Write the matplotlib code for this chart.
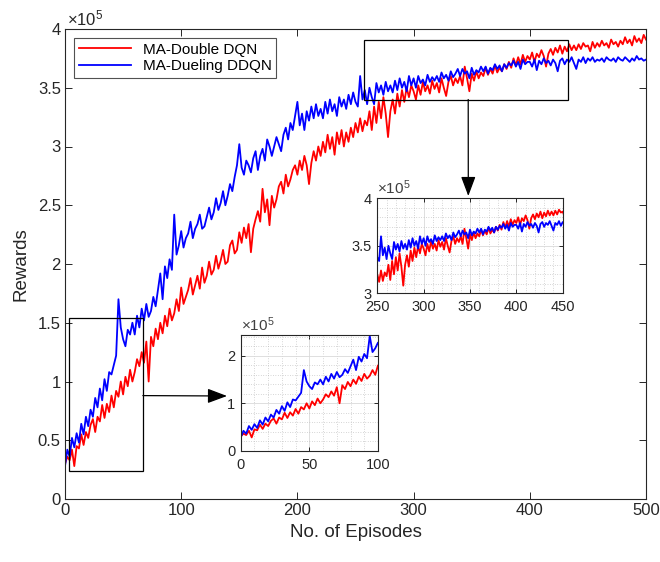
import matplotlib
matplotlib.use("Agg")
import matplotlib.pyplot as plt
from matplotlib.patches import Rectangle
from matplotlib.ticker import MultipleLocator

plt.rcParams['font.family'] = ['Liberation Sans', 'DejaVu Sans']
plt.rcParams['mathtext.fontset'] = 'custom'
plt.rcParams['mathtext.rm'] = 'Liberation Sans'
plt.rcParams['mathtext.it'] = 'Liberation Sans'

# rewards in units of 1e5, one value every 2 episodes (0..500)
episodes = list(range(0, 501, 2))

double_dqn = [
    0.30, 0.36, 0.33, 0.42, 0.28, 0.45, 0.43, 0.55, 0.46, 0.57,
    0.52, 0.63, 0.68, 0.57, 0.70, 0.66, 0.80, 0.69, 0.81, 0.74,
    0.88, 0.78, 0.92, 0.87, 1.00, 0.89, 1.04, 0.96, 1.10, 1.00,
    1.08, 1.19, 1.13, 1.25, 1.16, 1.34, 1.00, 1.38, 1.30, 1.45,
    1.36, 1.50, 1.41, 1.56, 1.47, 1.62, 1.52, 1.58, 1.70, 1.60,
    1.80, 1.66, 1.72, 1.78, 1.88, 1.74, 1.82, 1.90, 1.79, 1.97,
    1.84, 1.90, 2.02, 1.91, 1.95, 2.07, 1.96, 2.03, 2.12, 2.00,
    2.02, 2.16, 2.20, 2.09, 2.12, 2.27, 2.18, 2.31, 2.22, 2.34,
    2.10, 2.30, 2.38, 2.45, 2.36, 2.64, 2.44, 2.55, 2.33, 2.58,
    2.48, 2.55, 2.66, 2.70, 2.60, 2.76, 2.66, 2.72, 2.80, 2.84,
    2.76, 2.88, 2.80, 2.92, 2.84, 2.68, 2.86, 2.96, 2.88, 3.00,
    2.92, 3.04, 2.95, 3.10, 2.98, 3.08, 2.93, 3.12, 3.02, 3.14,
    3.00, 3.12, 3.04, 3.16, 3.08, 3.20, 3.12, 3.24, 3.13, 3.22,
    3.18, 3.30, 3.14, 3.34, 3.20, 3.38, 3.24, 3.42, 3.28, 3.08,
    3.30, 3.40, 3.28, 3.45, 3.34, 3.48, 3.38, 3.50, 3.42, 3.52,
    3.47, 3.40, 3.52, 3.44, 3.55, 3.47, 3.52, 3.45, 3.56, 3.49,
    3.54, 3.46, 3.58, 3.50, 3.43, 3.55, 3.60, 3.52, 3.58, 3.54,
    3.60, 3.52, 3.68, 3.58, 3.47, 3.62, 3.56, 3.64, 3.58, 3.63,
    3.60, 3.67, 3.61, 3.66, 3.62, 3.69, 3.63, 3.67, 3.64, 3.70,
    3.66, 3.72, 3.67, 3.75, 3.69, 3.76, 3.70, 3.78, 3.72, 3.77,
    3.74, 3.80, 3.72, 3.79, 3.76, 3.82, 3.77, 3.68, 3.79, 3.83,
    3.78, 3.84, 3.80, 3.86, 3.79, 3.85, 3.81, 3.87, 3.82, 3.86,
    3.82, 3.87, 3.83, 3.88, 3.85, 3.86, 3.81, 3.89, 3.84, 3.88,
    3.85, 3.90, 3.86, 3.88, 3.84, 3.91, 3.87, 3.89, 3.85, 3.90,
    3.87, 3.93, 3.88, 3.91, 3.86, 3.94, 3.89, 3.92, 3.88, 3.95,
    3.91,
]

dueling_ddqn = [
    0.28, 0.42, 0.36, 0.52, 0.44, 0.56, 0.48, 0.64, 0.55, 0.70,
    0.62, 0.76, 0.70, 0.86, 0.78, 0.94, 0.84, 1.02, 0.92, 1.08,
    1.06, 1.14, 1.22, 1.70, 1.46, 1.36, 1.30, 1.44, 1.40, 1.50,
    1.40, 1.56, 1.46, 1.62, 1.52, 1.66, 1.55, 1.60, 1.72, 1.64,
    1.78, 1.92, 1.70, 1.98, 1.88, 2.04, 1.95, 2.42, 2.08, 2.16,
    2.28, 2.14, 2.22, 2.26, 2.36, 2.22, 2.30, 2.34, 2.42, 2.30,
    2.32, 2.40, 2.48, 2.38, 2.44, 2.56, 2.46, 2.52, 2.62, 2.50,
    2.58, 2.68, 2.62, 2.74, 2.84, 3.02, 2.82, 2.76, 2.88, 2.84,
    2.78, 2.90, 2.96, 2.80, 2.92, 2.98, 2.88, 3.06, 3.00, 2.92,
    3.00, 3.08, 3.02, 2.96, 3.10, 3.16, 3.06, 3.20, 3.14, 3.26,
    3.38, 3.18, 3.28, 3.14, 3.30, 3.22, 3.34, 3.24, 3.36, 3.26,
    3.32, 3.24, 3.38, 3.28, 3.40, 3.30, 3.36, 3.26, 3.42, 3.34,
    3.40, 3.32, 3.44, 3.36, 3.46, 3.38, 3.34, 3.60, 3.40, 3.48,
    3.36, 3.50, 3.42, 3.36, 3.54, 3.46, 3.52, 3.44, 3.55, 3.47,
    3.52, 3.46, 3.56, 3.48, 3.58, 3.50, 3.55, 3.47, 3.60, 3.52,
    3.58, 3.50, 3.60, 3.54, 3.57, 3.52, 3.61, 3.55, 3.59, 3.56,
    3.60, 3.55, 3.63, 3.58, 3.61, 3.56, 3.64, 3.59, 3.62, 3.66,
    3.60, 3.66, 3.62, 3.64, 3.58, 3.67, 3.61, 3.65, 3.63, 3.68,
    3.64, 3.68, 3.62, 3.67, 3.65, 3.70, 3.66, 3.69, 3.64, 3.70,
    3.67, 3.71, 3.69, 3.73, 3.68, 3.72, 3.66, 3.74, 3.70, 3.72,
    3.72, 3.68, 3.74, 3.65, 3.73, 3.70, 3.75, 3.71, 3.73, 3.69,
    3.74, 3.71, 3.64, 3.73, 3.75, 3.70, 3.74, 3.72, 3.76, 3.71,
    3.66, 3.74, 3.72, 3.76, 3.71, 3.75, 3.73, 3.76, 3.72, 3.74,
    3.73, 3.75, 3.72, 3.76, 3.74, 3.73, 3.75, 3.72, 3.76, 3.74,
    3.73, 3.76, 3.74, 3.72, 3.75, 3.73, 3.77, 3.74, 3.75, 3.73,
    3.74,
]

labels = ["MA-Double DQN", "MA-Dueling DDQN"]
colors = ["#ff0000", "#0000ff"]
y_ticks = [0, 0.5, 1, 1.5, 2, 2.5, 3, 3.5, 4]
y_tick_labels = ["0", "0.5", "1", "1.5", "2", "2.5", "3", "3.5", "4"]

AXC = "#262626"
W, H = 660, 562


def style_axes(ax, size, length, xpad=3, ypad=3):
    for s in ax.spines.values():
        s.set_color(AXC)
        s.set_linewidth(0.8)
    ax.tick_params(direction="in", top=True, right=True, length=length,
                   width=0.7, colors=AXC, labelsize=size)
    ax.tick_params(axis="x", pad=xpad)
    ax.tick_params(axis="y", pad=ypad)
    ax.tick_params(which="minor", length=0)


fig = plt.figure(figsize=(W / 100, H / 100), dpi=100)
ax = fig.add_axes([65 / W, 63 / H, 581 / W, 470 / H])
ax.plot(episodes, double_dqn, color=colors[0], lw=1.3, label=labels[0])
ax.plot(episodes, dueling_ddqn, color=colors[1], lw=1.3, label=labels[1])
ax.set_xlim(0, 500)
ax.set_ylim(0, 4)
ax.set_xticks(range(0, 501, 100))
ax.set_yticks(y_ticks)
ax.set_yticklabels(y_tick_labels)
style_axes(ax, 12, 5)
ax.set_xlabel("No. of Episodes", fontsize=13.5, color=AXC, labelpad=4)
ax.set_ylabel("Rewards", fontsize=13.5, color=AXC, labelpad=6)
ax.text(0.003, 1.002, r"$\times10^{5}$", transform=ax.transAxes,
        ha="left", va="bottom", fontsize=12, color=AXC)
leg = ax.legend(loc="upper left", fontsize=11, frameon=True, fancybox=False,
                edgecolor=AXC, handlelength=3.4, borderpad=0.3,
                labelspacing=0.15, borderaxespad=0.6)
leg.get_frame().set_linewidth(0.8)

# zoom boxes in the main axes
ax.add_patch(Rectangle((3.7, 0.24), 63.3, 1.30, fill=False, ec="black", lw=0.9, zorder=5))
ax.add_patch(Rectangle((257.6, 3.40), 175.4, 0.51, fill=False, ec="black", lw=0.9, zorder=5))

# arrows from the boxes to the insets
arrow = dict(arrowstyle="-|>,head_length=1.2,head_width=0.45", color="black",
             lw=0.9, shrinkA=0, shrinkB=0)
ax.annotate("", xy=(227 / W, 1 - 396 / H), xycoords="figure fraction",
            xytext=(67, 0.88), textcoords="data", arrowprops=arrow)
ax.annotate("", xy=(468.3 / W, 1 - 196 / H), xycoords="figure fraction",
            xytext=(347, 3.40), textcoords="data", arrowprops=arrow)


def make_inset(rect, xlim, ylim, xticks, yticks, yticklabels, xminor, yminor):
    ins = fig.add_axes(rect)
    ins.plot(episodes, double_dqn, color=colors[0], lw=1.3)
    ins.plot(episodes, dueling_ddqn, color=colors[1], lw=1.3)
    ins.set_xlim(*xlim)
    ins.set_ylim(*ylim)
    ins.set_xticks(xticks)
    ins.set_yticks(yticks)
    ins.set_yticklabels(yticklabels)
    ins.xaxis.set_minor_locator(MultipleLocator(xminor))
    ins.yaxis.set_minor_locator(MultipleLocator(yminor))
    ins.grid(True, which="major", color="#d9d9d9", lw=0.6)
    ins.grid(True, which="minor", color="#b0b0b0", lw=0.5, ls=(0, (1, 2.5)))
    ins.set_axisbelow(True)
    style_axes(ins, 10.5, 3, xpad=5, ypad=4)
    ins.text(0.0, 1.01, r"$\times10^{5}$", transform=ins.transAxes,
             ha="left", va="bottom", fontsize=11, color="#404040")
    return ins


make_inset([240.7 / W, 1 - 450.7 / H, 137.3 / W, 115.7 / H],
           (0, 100), (0, 2.44), [0, 50, 100], [0, 1, 2], ["0", "1", "2"], 10, 0.2)
make_inset([377.3 / W, 1 - 293.3 / H, 185.4 / W, 95 / H],
           (250, 450), (3, 4), [250, 300, 350, 400, 450], [3, 3.5, 4],
           ["3", "3.5", "4"], 10, 0.1)

fig.savefig("out.png", dpi=100)
